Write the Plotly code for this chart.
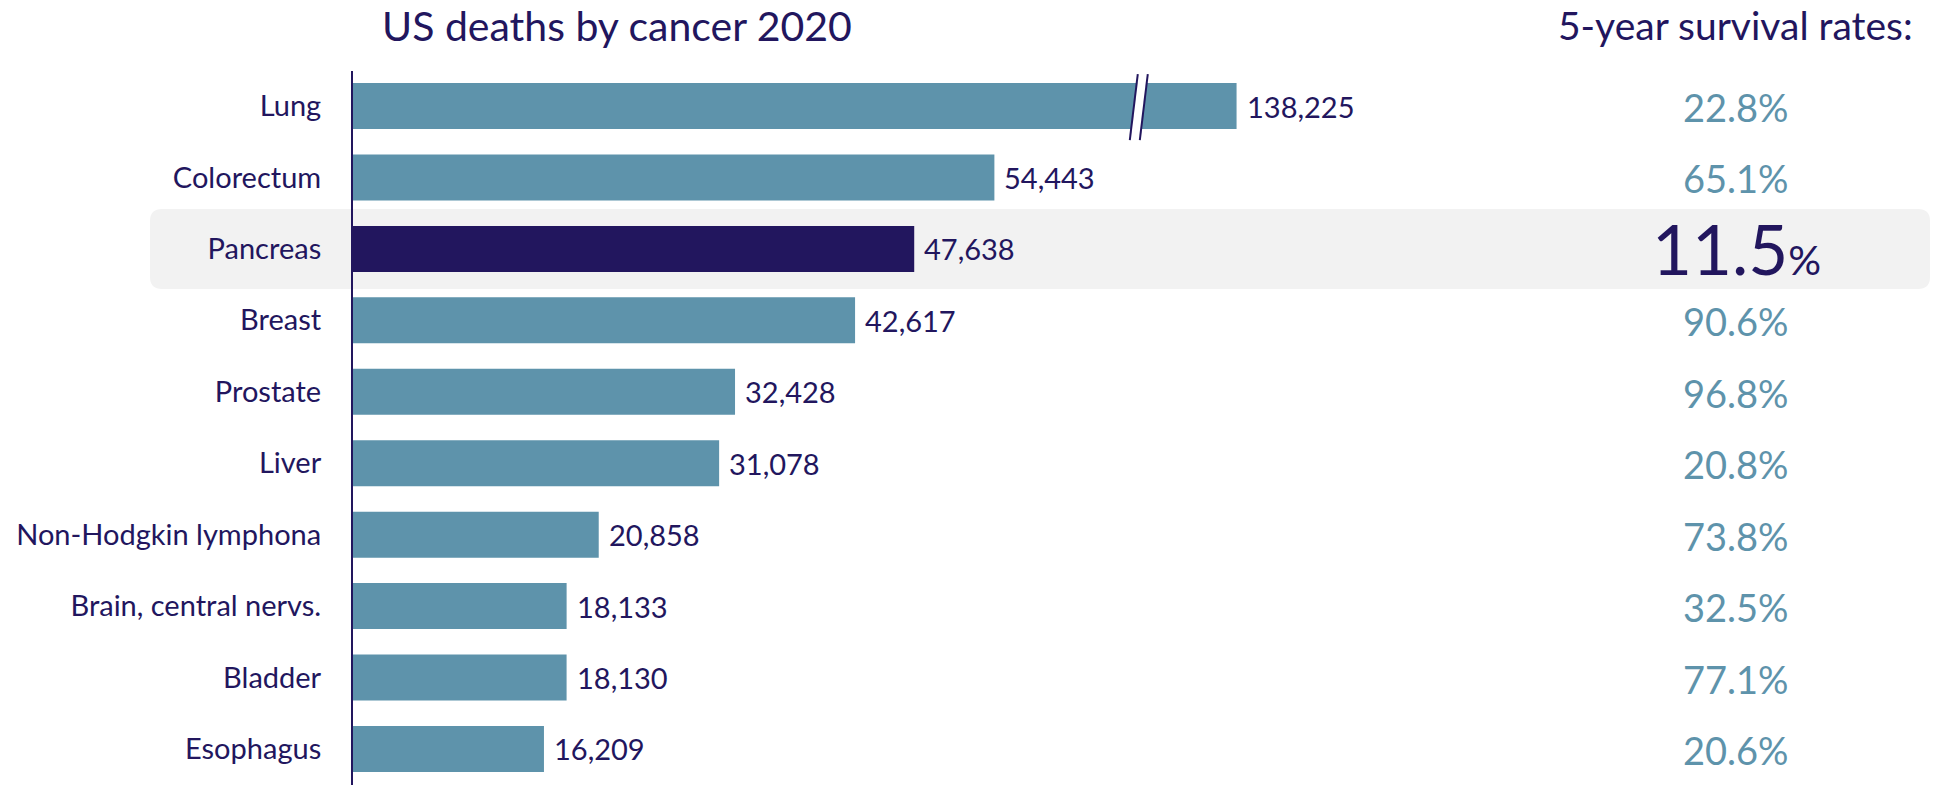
import plotly.graph_objects as go

# ---- data ----
categories = ["Lung", "Colorectum", "Pancreas", "Breast", "Prostate", "Liver",
              "Non-Hodgkin lymphona", "Brain, central nervs.", "Bladder", "Esophagus"]
deaths = [138225, 54443, 47638, 42617, 32428, 31078, 20858, 18133, 18130, 16209]
survival = [22.8, 65.1, 11.5, 90.6, 96.8, 20.8, 73.8, 32.5, 77.1, 20.6]
highlight = "Pancreas"
title_left = "US deaths by cancer 2020"
title_right = "5-year survival rates:"

# ---- style / layout constants ----
W, H = 1934, 785
ML, MT = 353, 71
PLOT_W, PLOT_H = W - ML, H - MT
X_MAX = 134200            # axis range (units)
BREAK_CAP = 75000         # drawn length of the broken (Lung) bar
BREAK_AT = 66700          # position of the break marks
Y_RANGE = [9.504, -0.49]
FONT = "Lato"
NAVY = "#22165E"
TEAL = "#5E93AB"
GREY = "#F2F2F2"

unit_per_px_x = X_MAX / PLOT_W
unit_per_px_y = (Y_RANGE[0] - Y_RANGE[1]) / PLOT_H


def py_to_paper(py):
    return (H - py) / PLOT_H


def px_to_paper(px):
    return (px - ML) / PLOT_W


def yidx_to_paper(v):
    return (Y_RANGE[0] - v) / (Y_RANGE[0] - Y_RANGE[1])


shown = [min(d, BREAK_CAP) for d in deaths]
colors = [NAVY if c == highlight else TEAL for c in categories]

fig = go.Figure()
fig.add_trace(go.Bar(
    x=shown, y=categories, orientation="h",
    marker=dict(color=colors, line=dict(width=0)),
    hoverinfo="skip", showlegend=False,
))

annotations = []
# value labels
for c, d, s in zip(categories, deaths, shown):
    annotations.append(dict(
        x=s, y=c, xref="x", yref="y", text=f"{d:,}", showarrow=False,
        xanchor="left", yanchor="middle", xshift=8,
        font=dict(family=FONT, size=29, color=NAVY)))

# survival rates
for c, r in zip(categories, survival):
    if c == highlight:
        txt = f"{r:.1f}<span style='font-size:41px'>%</span>"
        fnt = dict(family=FONT, size=69, color=NAVY)
        ys = 0
    else:
        txt = f"{r:.1f}%"
        fnt = dict(family=FONT, size=38, color=TEAL)
        ys = -1
    annotations.append(dict(
        x=px_to_paper(1736), y=c, xref="paper", yref="y", text=txt, showarrow=False,
        xanchor="center", yanchor="middle", yshift=ys, font=fnt))

# headers
annotations.append(dict(
    x=px_to_paper(617), y=py_to_paper(25), xref="paper", yref="paper",
    text=title_left, showarrow=False, xanchor="center", yanchor="middle",
    font=dict(family=FONT, size=41, color=NAVY)))
annotations.append(dict(
    x=px_to_paper(1735), y=py_to_paper(25), xref="paper", yref="paper",
    text=title_right, showarrow=False, xanchor="center", yanchor="middle",
    font=dict(family=FONT, size=39, color=NAVY)))

shapes = []
# highlight rounded rectangle behind Pancreas row
hi = categories.index(highlight)
x0, x1 = px_to_paper(150), px_to_paper(1930)
y_top = yidx_to_paper(hi - 0.56)
y_bot = yidx_to_paper(hi + 0.56)
rx, ry = 12 / PLOT_W, 12 / PLOT_H
path = (f"M{x0+rx},{y_bot} L{x1-rx},{y_bot} Q{x1},{y_bot} {x1},{y_bot+ry} "
        f"L{x1},{y_top-ry} Q{x1},{y_top} {x1-rx},{y_top} "
        f"L{x0+rx},{y_top} Q{x0},{y_top} {x0},{y_top-ry} "
        f"L{x0},{y_bot+ry} Q{x0},{y_bot} {x0+rx},{y_bot} Z")
shapes.append(dict(type="path", path=path, xref="paper", yref="paper",
                   fillcolor=GREY, line=dict(width=0), layer="below"))

# break marks on the Lung bar
bi = categories.index("Lung")
yt, yb = bi - 32 * unit_per_px_y, bi + 34 * unit_per_px_y
gap = 10 * unit_per_px_x
lean_t, lean_b = 4 * unit_per_px_x, -4 * unit_per_px_x
lt = BREAK_AT + lean_t - gap / 2
lb = BREAK_AT + lean_b - gap / 2
rt = lt + gap
rb = lb + gap
shapes.append(dict(type="path", xref="x", yref="y",
                   path=f"M{lt},{yt} L{rt},{yt} L{rb},{yb} L{lb},{yb} Z",
                   fillcolor="white", line=dict(width=0), layer="above"))
shapes.append(dict(type="line", xref="x", yref="y", x0=lt, y0=yt, x1=lb, y1=yb,
                   line=dict(color=NAVY, width=2), layer="above"))
shapes.append(dict(type="line", xref="x", yref="y", x0=rt, y0=yt, x1=rb, y1=yb,
                   line=dict(color=NAVY, width=2), layer="above"))

fig.update_layout(
    width=W, height=H,
    margin=dict(l=ML, r=0, t=MT, b=0, autoexpand=False),
    paper_bgcolor="white", plot_bgcolor="rgba(0,0,0,0)",
    bargap=0.356,
    annotations=annotations, shapes=shapes,
    xaxis=dict(range=[0, X_MAX], visible=False, fixedrange=True),
    yaxis=dict(range=Y_RANGE, type="category", showline=True, linecolor=NAVY,
               linewidth=2, showgrid=False, zeroline=False, ticks="",
               ticklabelstandoff=24,
               tickfont=dict(family=FONT, size=29, color=NAVY), fixedrange=True),
    font=dict(family=FONT, color=NAVY),
)

fig.write_html("out.html", config={"displayModeBar": False})
